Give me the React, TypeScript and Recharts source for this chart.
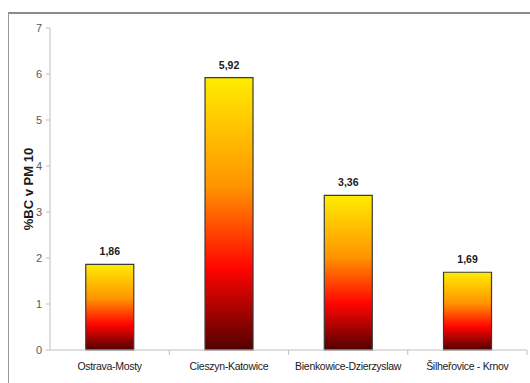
import { BarChart, Bar, XAxis, YAxis, LabelList } from 'recharts';

// BC share in PM10 per measuring site
const SITES = ['Ostrava-Mosty', 'Cieszyn-Katowice', 'Bienkowice-Dzierzyslaw', 'Šilheřovice - Krnov'];
const BC_SHARE = [1.86, 5.92, 3.36, 1.69];
const Y_TICKS = [0, 1, 2, 3, 4, 5, 6, 7];

const data = SITES.map((site, i) => ({ site, value: BC_SHARE[i] }));

const CHART_W = 530;
const CHART_H = 383;
const Y_AXIS_W = 50;
const MARGIN = { top: 28, right: 3, left: 0, bottom: 8 };
const BAND = (CHART_W - Y_AXIS_W - MARGIN.left - MARGIN.right) / SITES.length;

const FONT = '"Liberation Sans", Arial, sans-serif';
const AXIS_GREY = '#c0c0c0';

const fmtComma = (v: number) => v.toFixed(2).replace('.', ',');

// category label plus a tick mark on the right edge of its slot
function SiteTick({ x, y, payload }: any) {
  const edge = x + BAND / 2;
  return (
    <g>
      <line x1={edge} y1={y} x2={edge} y2={y + 5} stroke={AXIS_GREY} />
      <text
        x={x}
        y={y + 20}
        textAnchor="middle"
        fontFamily={FONT}
        fontSize={10.5}
        letterSpacing={-0.3}
        fill="#1a1a1a"
      >
        {payload.value}
      </text>
    </g>
  );
}

function YTitle({ viewBox }: any) {
  const cx = 28;
  const cy = viewBox.y + viewBox.height / 2;
  return (
    <text
      x={cx}
      y={cy}
      transform={`rotate(-90 ${cx} ${cy})`}
      textAnchor="middle"
      dominantBaseline="central"
      fontFamily={FONT}
      fontWeight="bold"
      fontSize={13}
      fill="#1a1a1a"
    >
      %BC v PM 10
    </text>
  );
}

export default function App() {
  return (
    <div style={{ position: 'absolute', left: 0, top: 0, width: CHART_W, height: CHART_H, background: '#fff' }}>
      <div
        style={{
          position: 'absolute', left: 8, top: 12, width: 522, height: 371,
          borderTop: '2px solid #8c8c8c', borderLeft: '1px solid #9a9a9a',
        }}
      />
      <div style={{ position: 'absolute', left: 0, top: 0 }}>
        <BarChart
          width={CHART_W}
          height={CHART_H}
          data={data}
          margin={MARGIN}
          barCategoryGap="30%"
        >
          <defs>
            <linearGradient id="heat" x1="0" y1="0" x2="0" y2="1">
              <stop offset="0%" stopColor="#ffec00" />
              <stop offset="40%" stopColor="#ff9400" />
              <stop offset="70%" stopColor="#ff0500" />
              <stop offset="100%" stopColor="#520000" />
            </linearGradient>
          </defs>
          <XAxis
            dataKey="site"
            height={25}
            tickLine={false}
            tickSize={0}
            tickMargin={0}
            axisLine={{ stroke: AXIS_GREY }}
            tick={<SiteTick />}
            interval={0}
          />
          <YAxis
            width={Y_AXIS_W}
            domain={[0, 7]}
            ticks={Y_TICKS}
            tickSize={4}
            axisLine={{ stroke: AXIS_GREY }}
            tickLine={{ stroke: AXIS_GREY }}
            tick={{ fontSize: 11, fill: '#595959', fontFamily: FONT }}
            tickMargin={4}
            label={<YTitle />}
          />
          <Bar
            dataKey="value"
            fill="url(#heat)"
            stroke="#3a3a3a"
            strokeWidth={1.2}
            isAnimationActive={false}
          >
            <LabelList
              dataKey="value"
              position="top"
              offset={9}
              formatter={(v: any) => fmtComma(Number(v))}
              style={{ fontSize: 10.5, fill: '#1a1a1a', fontFamily: FONT, fontWeight: 'bold' }}
            />
          </Bar>
        </BarChart>
      </div>
    </div>
  );
}
